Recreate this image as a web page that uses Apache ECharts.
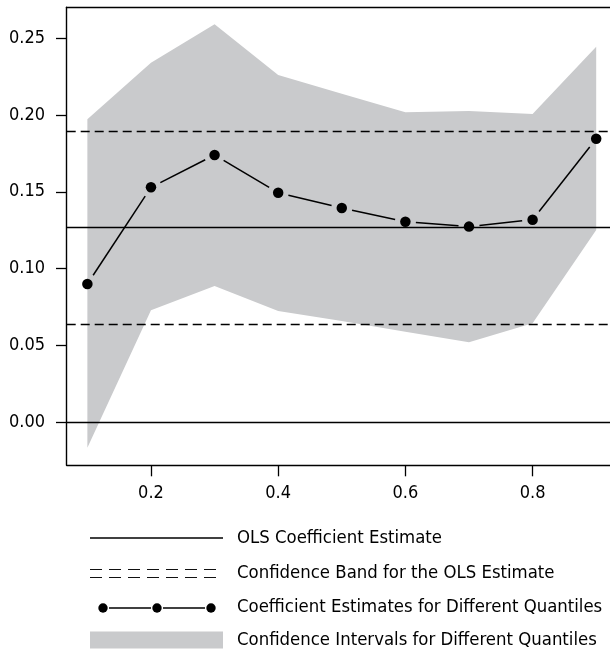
<!DOCTYPE html>
<html>
<head>
<meta charset="utf-8">
<script src="https://cdn.jsdelivr.net/npm/echarts@6/dist/echarts.min.js"></script>
<style>
html,body{margin:0;padding:0;background:#fff;}
#chart{width:610px;height:655px;}
</style>
</head>
<body>
<div id="chart"></div>
<script>
// ---- data ----
const quantiles = [0.1, 0.2, 0.3, 0.4, 0.5, 0.6, 0.7, 0.8, 0.9];
const qrCoef   = [0.0899, 0.1529, 0.1740, 0.1494, 0.1394, 0.1305, 0.1273, 0.1318, 0.1846];
const ciUpper  = [0.1972, 0.2341, 0.2591, 0.2261, 0.2139, 0.2018, 0.2026, 0.2007, 0.2445];
const ciLower  = [-0.0167, 0.0728, 0.0886, 0.0724, 0.0658, 0.0588, 0.0519, 0.0643, 0.1251];
const olsCoef  = 0.1266;
const olsUpper = 0.1892;
const olsLower = 0.0636;
const zeroLine = 0;
const xTicks = [0.2, 0.4, 0.6, 0.8];
const yTicks = [0, 0.05, 0.10, 0.15, 0.20, 0.25];
const legendLabels = [
  'OLS Coefficient Estimate',
  'Confidence Band for the OLS Estimate',
  'Coefficient Estimates for Different Quantiles',
  'Confidence Intervals for Different Quantiles'
];

// ---- style ----
const FONT = '"DejaVu Sans Condensed", "Liberation Sans Narrow", sans-serif';
const BAND = '#c9cacc';
const INK = '#000';
const X_MIN = 0.0675, X_MAX = 0.9217;
const Y_MIN = -0.02821, Y_MAX = 0.2702;

const chart = echarts.init(document.getElementById('chart'), null, {renderer: 'canvas'});

const bandData = quantiles.map((q, i) => [q, ciLower[i], ciUpper[i]]);
const segData = quantiles.slice(0, -1).map((q, i) => [q, qrCoef[i], quantiles[i + 1], qrCoef[i + 1]]);
const pointData = quantiles.map((q, i) => [q, qrCoef[i]]);

function hLine(v, dashed) {
  return {yAxis: v, lineStyle: {color: INK, width: 1.4, type: dashed ? [9, 5] : 'solid'}};
}

// legend geometry
const LX0 = 90, LX1 = 223, TX = 237;
const rows = [538, 573, 607, 640];
const legendGraphics = [];
legendGraphics.push({type: 'line', shape: {x1: LX0, y1: rows[0], x2: LX1, y2: rows[0]}, style: {stroke: INK, lineWidth: 1.3}});
legendGraphics.push({type: 'line', shape: {x1: LX0, y1: rows[1] - 3.5, x2: LX1, y2: rows[1] - 3.5}, style: {stroke: '#111', lineWidth: 1, lineDash: [12, 7]}});
legendGraphics.push({type: 'line', shape: {x1: LX0, y1: rows[1] + 4.5, x2: LX1, y2: rows[1] + 4.5}, style: {stroke: '#111', lineWidth: 1, lineDash: [12, 7]}});
const dots = [103, 157, 211];
for (let i = 0; i < dots.length - 1; i++) {
  legendGraphics.push({type: 'line', shape: {x1: dots[i] + 6, y1: rows[2] + 1, x2: dots[i + 1] - 6, y2: rows[2] + 1}, style: {stroke: INK, lineWidth: 1.5}});
}
dots.forEach(x => legendGraphics.push({type: 'circle', shape: {cx: x, cy: rows[2] + 1, r: 4.7}, style: {fill: INK}}));
legendGraphics.push({type: 'rect', shape: {x: LX0, y: rows[3] - 8.5, width: LX1 - LX0, height: 17}, style: {fill: BAND}});
legendLabels.forEach((t, i) => legendGraphics.push({
  type: 'text', x: TX, y: rows[i],
  style: {text: t, fill: INK, font: '18.4px ' + FONT, textVerticalAlign: 'middle', textAlign: 'left'}
}));

const axisLineStyle = {color: INK, width: 1.4};

chart.setOption({
  animation: false,
  backgroundColor: '#fff',
  grid: {left: 66.7, right: 0, top: 7.3, bottom: 189.7, show: false},
  xAxis: [{
    type: 'value', min: X_MIN, max: X_MAX, position: 'bottom',
    axisLine: {show: true, onZero: false, lineStyle: axisLineStyle},
    splitLine: {show: false},
    axisTick: {show: true, length: 11, customValues: xTicks, lineStyle: {color: INK, width: 1.3}},
    axisLabel: {customValues: xTicks, margin: 19, color: INK, fontSize: 18, fontFamily: FONT, formatter: v => v.toFixed(1)}
  }, {
    type: 'value', min: X_MIN, max: X_MAX, position: 'top',
    axisLine: {show: true, onZero: false, lineStyle: axisLineStyle},
    splitLine: {show: false}, axisTick: {show: false}, axisLabel: {show: false}
  }],
  yAxis: {
    type: 'value', min: Y_MIN, max: Y_MAX,
    axisLine: {show: true, onZero: false, lineStyle: axisLineStyle},
    splitLine: {show: false},
    axisTick: {show: true, length: 10.7, customValues: yTicks, lineStyle: {color: INK, width: 1.3}},
    axisLabel: {customValues: yTicks, margin: 21.7, color: INK, fontSize: 18, fontFamily: FONT, formatter: v => v.toFixed(2)}
  },
  series: [
    {
      name: legendLabels[3],
      type: 'custom',
      data: bandData,
      z: 1,
      renderItem: function (params, api) {
        if (params.dataIndex !== 0) return null;
        const pts = [];
        bandData.forEach(d => pts.push(api.coord([d[0], d[2]])));
        for (let i = bandData.length - 1; i >= 0; i--) pts.push(api.coord([bandData[i][0], bandData[i][1]]));
        return {type: 'polygon', shape: {points: pts}, style: {fill: BAND, stroke: null}};
      }
    },
    {
      name: legendLabels[0],
      type: 'line',
      data: [],
      z: 3,
      markLine: {
        silent: true, symbol: ['none', 'none'], label: {show: false}, precision: 6,
        data: [hLine(olsCoef, false), hLine(zeroLine, false), hLine(olsUpper, true), hLine(olsLower, true)]
      }
    },
    {
      name: legendLabels[2] + ' line',
      type: 'custom',
      data: segData,
      z: 4,
      renderItem: function (params, api) {
        const p0 = api.coord([api.value(0), api.value(1)]);
        const p1 = api.coord([api.value(2), api.value(3)]);
        const dx = p1[0] - p0[0], dy = p1[1] - p0[1];
        const len = Math.sqrt(dx * dx + dy * dy);
        const gap = 10.5;
        if (len <= 2 * gap) return null;
        const ux = dx / len, uy = dy / len;
        return {type: 'line', shape: {x1: p0[0] + ux * gap, y1: p0[1] + uy * gap, x2: p1[0] - ux * gap, y2: p1[1] - uy * gap},
          style: {stroke: INK, lineWidth: 1.5}};
      }
    },
    {
      name: legendLabels[2],
      type: 'scatter',
      data: pointData,
      symbol: 'circle',
      symbolSize: 10.5,
      z: 5,
      itemStyle: {color: INK, opacity: 1}
    }
  ],
  graphic: legendGraphics
});
</script>
</body>
</html>
